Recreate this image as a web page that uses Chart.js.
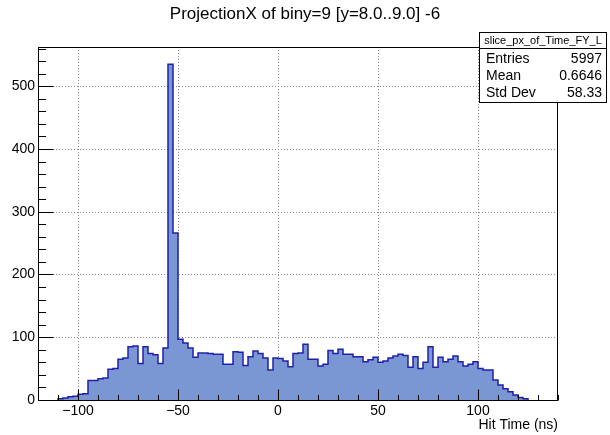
<!DOCTYPE html>
<html><head><meta charset="utf-8">
<script src="https://cdn.jsdelivr.net/npm/chart.js@4"></script>
<style>html,body{margin:0;padding:0;background:#fff}#c{display:block}</style>
</head><body>
<canvas id="c" width="610" height="435"></canvas>
<script>
const titleText = 'ProjectionX of biny=9 [y=8.0..9.0] -6';
const xAxisTitle = 'Hit Time (ns)';
const binStart = -110;
const binWidth = 2.5;
const counts = [
  2, 3, 5, 6, 9, 10,
  31, 31, 34, 35, 49, 50, 65, 67, 85, 86, 58, 85, 74, 72, 58, 83,
  535, 266,
  97, 91, 83, 68, 75, 75, 74, 73, 73, 57, 57, 77,
  76, 55, 69, 78, 74, 67, 48, 67, 66, 62, 53, 74, 75, 89, 65, 65, 54, 57, 79, 74, 81, 73, 73, 69, 69, 61, 64, 68,
  60, 62, 67, 70, 73, 71, 52, 69, 50, 60, 85, 52, 68, 61, 65, 70, 61, 54, 57, 61, 50, 48, 48, 32, 24, 18, 13, 8, 4, 2
];
const xRange = [-120, 140];
const yRange = [0, 562.5];
const xTicks = [-100, -50, 0, 50, 100];
const yTicks = [0, 100, 200, 300, 400, 500];
const xMinorStep = 10;
const yMinorStep = 20;
const statsName = 'slice_px_of_Time_FY_L';
const statsLabels = ['Entries', 'Mean', 'Std Dev'];
const statsValues = ['5997', '0.6646', '58.33'];

const FONT = "'Liberation Sans', Arial, Helvetica, sans-serif";

// histogram outline points (bin low edges, stepped)
const points = [{x: binStart, y: 0}];
counts.forEach((v, i) => points.push({x: binStart + i * binWidth, y: v}));
points.push({x: binStart + counts.length * binWidth, y: 0});

function fmt(v) { return String(v).replace('-', '\u2212'); }

const rootPlugin = {
  id: 'rootFrame',
  beforeDatasetsDraw(chart) {
    const {ctx, chartArea: a, scales: {x, y}} = chart;
    ctx.save();
    ctx.strokeStyle = '#8a8a8a';
    ctx.lineWidth = 1;
    ctx.setLineDash([1, 2]);
    xTicks.forEach(v => {
      const px = Math.round(x.getPixelForValue(v)) + 0.5;
      ctx.beginPath(); ctx.moveTo(px, a.top); ctx.lineTo(px, a.bottom); ctx.stroke();
    });
    yTicks.forEach(v => {
      if (v === 0) return;
      const py = Math.round(y.getPixelForValue(v)) + 0.5;
      ctx.beginPath(); ctx.moveTo(a.left, py); ctx.lineTo(a.right, py); ctx.stroke();
    });
    ctx.restore();
  },
  afterDatasetsDraw(chart) {
    const {ctx, chartArea: a, scales: {x, y}} = chart;
    ctx.save();
    ctx.strokeStyle = '#000';
    ctx.lineWidth = 1;
    ctx.setLineDash([]);
    const L = Math.round(a.left) + 0.5, R = Math.round(a.right) - 0.5;
    const T = Math.round(a.top) + 0.5, B = Math.round(a.bottom) + 0.5;
    ctx.strokeRect(L, T, R - L, B - T);
    for (let v = xRange[0]; v <= xRange[1]; v += xMinorStep) {
      const px = Math.round(x.getPixelForValue(v)) + 0.5;
      const len = xTicks.includes(v) ? 11 : 5.5;
      ctx.beginPath(); ctx.moveTo(px, B); ctx.lineTo(px, B - len); ctx.stroke();
    }
    for (let v = yRange[0]; v <= yRange[1]; v += yMinorStep) {
      const py = Math.round(y.getPixelForValue(v)) + 0.5;
      const len = yTicks.includes(v) ? 15 : 7.5;
      ctx.beginPath(); ctx.moveTo(L, py); ctx.lineTo(L + len, py); ctx.stroke();
    }
    ctx.restore();
  },
  afterDraw(chart) {
    const {ctx} = chart;
    ctx.save();
    // title
    ctx.fillStyle = '#000';
    ctx.font = '17px ' + FONT;
    ctx.textAlign = 'center';
    ctx.textBaseline = 'middle';
    ctx.fillText(titleText, 305, 14);
    // stats box
    const bx = 479.5, by = 32.5, bw = 127, bh = 70;
    ctx.fillStyle = '#fff';
    ctx.fillRect(bx, by, bw, bh);
    ctx.strokeStyle = '#000';
    ctx.lineWidth = 1;
    ctx.strokeRect(bx, by, bw, bh);
    ctx.beginPath(); ctx.moveTo(bx, 48.5); ctx.lineTo(bx + bw, 48.5); ctx.stroke();
    ctx.fillStyle = '#000';
    ctx.font = '11px ' + FONT;
    ctx.textAlign = 'center';
    ctx.fillText(statsName, bx + bw / 2, 41);
    ctx.font = '14px ' + FONT;
    const rows = [59.5, 76.5, 93];
    statsLabels.forEach((lab, i) => {
      ctx.textAlign = 'left';
      ctx.fillText(lab, 486, rows[i]);
      ctx.textAlign = 'right';
      ctx.fillText(statsValues[i], 602, rows[i]);
    });
    ctx.restore();
  }
};

new Chart(document.getElementById('c'), {
  type: 'line',
  data: {
    datasets: [{
      data: points,
      stepped: 'before',
      fill: 'origin',
      backgroundColor: '#7b97d3',
      borderColor: '#1f22a8',
      borderWidth: 1.5,
      pointRadius: 0,
      tension: 0
    }]
  },
  options: {
    responsive: false,
    animation: false,
    events: [],
    layout: {padding: {top: 47, right: 52, bottom: 0, left: 0}},
    plugins: {
      legend: {display: false},
      tooltip: {enabled: false},
      title: {display: false}
    },
    scales: {
      x: {
        type: 'linear',
        min: xRange[0], max: xRange[1],
        grid: {display: false, drawTicks: false},
        border: {display: false},
        afterBuildTicks: s => { s.ticks = xTicks.map(v => ({value: v})); },
        afterFit: s => { s.height = 35; },
        ticks: {
          color: '#000', padding: 3, maxRotation: 0,
          font: {family: FONT, size: 14},
          callback: v => fmt(v)
        },
        title: {
          display: true, text: xAxisTitle, align: 'end', color: '#000',
          font: {family: FONT, size: 14}, padding: {top: 0, bottom: 1}
        }
      },
      y: {
        type: 'linear',
        min: yRange[0], max: yRange[1],
        grid: {display: false, drawTicks: false},
        border: {display: false},
        afterBuildTicks: s => { s.ticks = yTicks.map(v => ({value: v})); },
        afterFit: s => { s.width = 38; },
        ticks: {
          color: '#000', padding: 3,
          font: {family: FONT, size: 14},
          callback: v => fmt(v)
        }
      }
    }
  },
  plugins: [rootPlugin]
});
</script>
</body></html>
